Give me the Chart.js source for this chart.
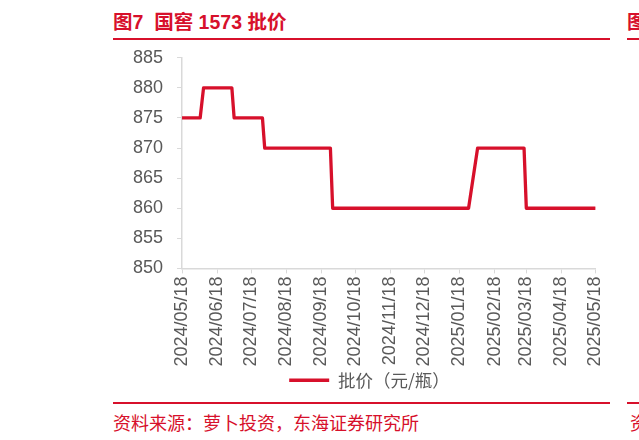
<!DOCTYPE html>
<html>
<head>
<meta charset="utf-8">
<script src="https://cdn.jsdelivr.net/npm/chart.js@4"></script>
<style>
  html, body { margin: 0; padding: 0; background: #fff; width: 639px; height: 440px; overflow: hidden; }
  body { position: relative; font-family: "Liberation Sans", "Noto Sans CJK SC", sans-serif; }
  .title { position: absolute; left: 113px; top: 6px; font: bold 19.5px "Liberation Sans", "Noto Sans CJK SC"; color: #d7102b; white-space: nowrap; }
  .rule { position: absolute; height: 2px; background: #d7102b; }
  .source { position: absolute; left: 113px; top: 409px; font: 18px "Noto Sans CJK SC"; color: #d7102b; white-space: nowrap; }
  #wrap { position: absolute; left: 100px; top: 33px; width: 520px; height: 366px; }
</style>
</head>
<body>
<div class="title">图7&nbsp; 国窖 1573 批价</div>
<div class="rule" style="left:113px; top:38px; width:497px;"></div>
<div class="title" style="left:627px;">图8</div>
<div class="rule" style="left:627px; top:38px; width:20px;"></div>
<div id="wrap"><canvas id="myChart"></canvas></div>
<div class="rule" style="left:113px; top:402px; width:497px;"></div>
<div class="rule" style="left:627px; top:402px; width:20px;"></div>
<div class="source">资料来源：萝卜投资，东海证券研究所</div>
<div class="source" style="left:630px;">资料</div>
<script>
// price series (step changes)
var dates = ['2024-05-18', '2024-06-03', '2024-06-06', '2024-07-01', '2024-07-03', '2024-07-28', '2024-07-30',
             '2024-09-26', '2024-09-28', '2025-01-26', '2025-02-03', '2025-03-16', '2025-03-18', '2025-05-18'];
var prices = [875, 875, 880, 880, 875, 875, 870, 870, 860, 860, 870, 870, 860, 860];
var tickLabels = ['2024/05/18', '2024/06/18', '2024/07/18', '2024/08/18', '2024/09/18', '2024/10/18', '2024/11/18',
                  '2024/12/18', '2025/01/18', '2025/02/18', '2025/03/18', '2025/04/18', '2025/05/18'];
var seriesName = '批价（元/瓶）';

function toTime(s) {
    var p = s.split(/[-\/]/);
    return Date.UTC(+p[0], +p[1] - 1, +p[2]);
}

function fmt(t) {
    var d = new Date(t);
    var m = d.getUTCMonth() + 1, day = d.getUTCDate();
    return d.getUTCFullYear() + '/' + (m < 10 ? '0' : '') + m + '/' + (day < 10 ? '0' : '') + day;
}

var points = dates.map(function (d, i) { return { x: toTime(d), y: prices[i] }; });
var tickValues = tickLabels.map(toTime);

var red = '#d7102b';
var axisGray = '#d9d9d9';
var textGray = '#595959';

var ctx = document.getElementById("myChart").getContext('2d');
var mychart = new Chart(ctx, {
    type: 'line',
    data: {
        datasets: [{
            label: seriesName,
            data: points,
            borderColor: red,
            backgroundColor: red,
            borderWidth: 3.3,
            pointRadius: 0,
            tension: 0,
            borderJoinStyle: 'round',
            borderCapStyle: 'round'
        }]
    },
    options: {
        responsive: true,
        maintainAspectRatio: false,
        animation: false,
        layout: { padding: { left: 19, right: 0, top: 4, bottom: 0 } },
        plugins: {
            tooltip: { enabled: false },
            legend: {
                position: 'bottom',
                labels: {
                    usePointStyle: true,
                    pointStyle: 'line',
                    pointStyleWidth: 40,
                    padding: 2,
                    color: textGray,
                    font: { family: '"Noto Sans CJK SC"', size: 17.5 }
                }
            }
        },
        scales: {
            x: {
                type: 'linear',
                min: tickValues[0],
                max: tickValues[tickValues.length - 1],
                afterBuildTicks: function (axis) {
                    axis.ticks = tickValues.map(function (v) { return { value: v }; });
                },
                ticks: {
                    autoSkip: false,
                    minRotation: 90,
                    maxRotation: 90,
                    padding: 3,
                    color: textGray,
                    font: { family: '"Liberation Sans"', size: 18 },
                    callback: function (v) { return fmt(v); }
                },
                grid: { drawOnChartArea: false, color: axisGray, tickLength: 5 },
                border: { color: axisGray, width: 1.5 }
            },
            y: {
                min: 850,
                max: 885,
                ticks: {
                    stepSize: 5,
                    padding: 14,
                    color: textGray,
                    font: { family: '"Liberation Sans"', size: 18 }
                },
                grid: { drawOnChartArea: false, color: axisGray, tickLength: 5 },
                border: { color: axisGray, width: 1.5 }
            }
        }
    }
});
</script>
</body>
</html>
